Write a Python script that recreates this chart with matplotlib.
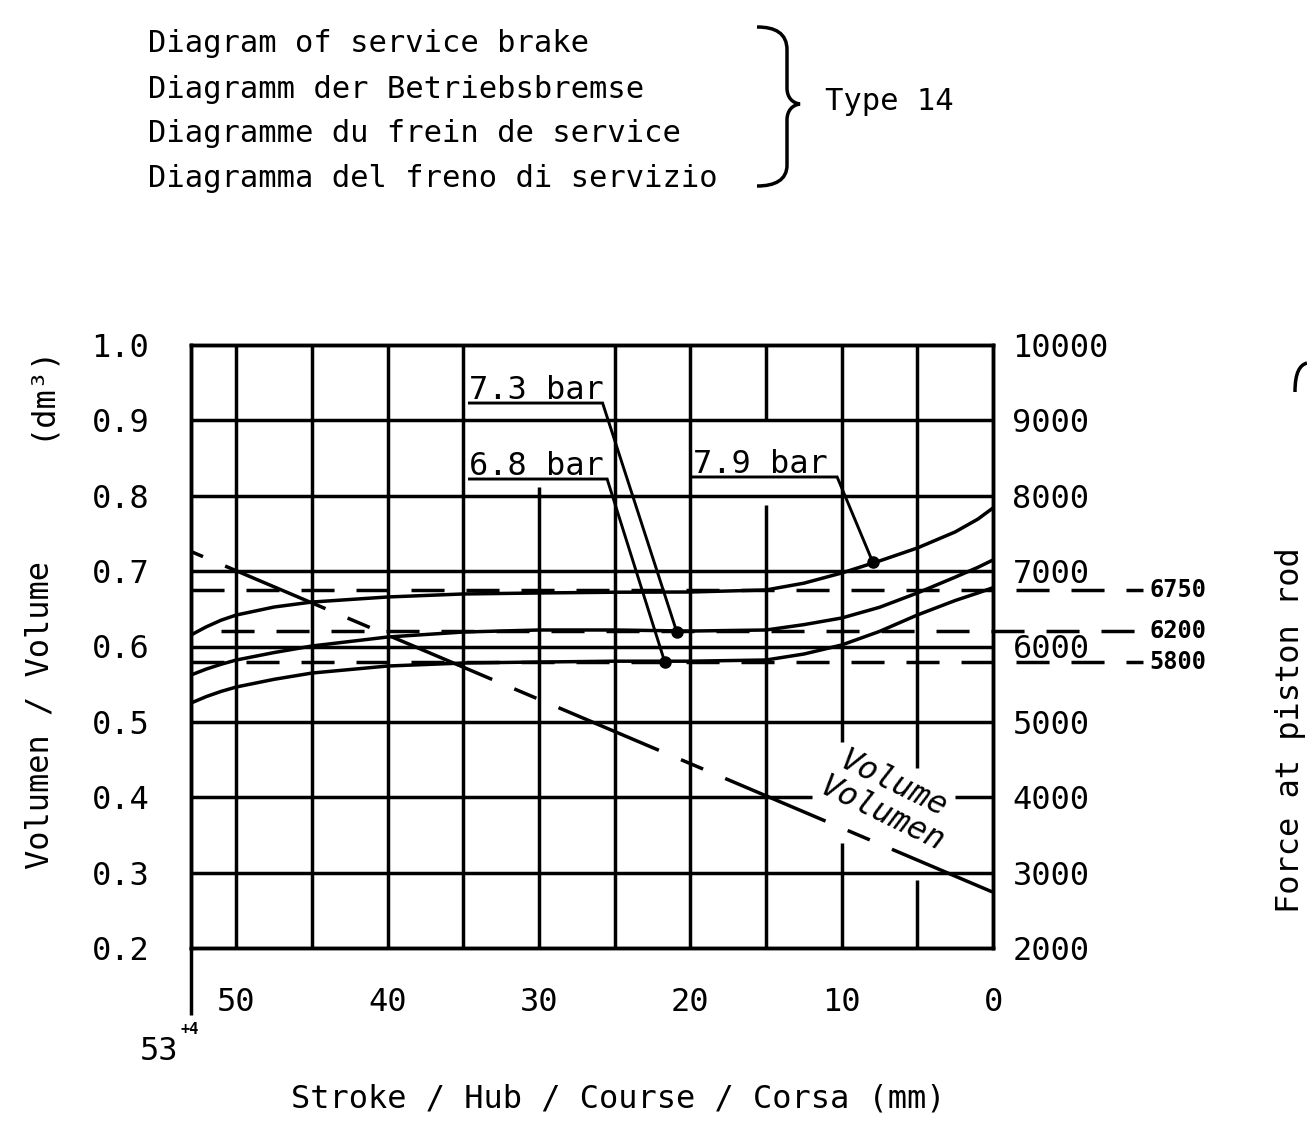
import numpy as np
import matplotlib
matplotlib.use("Agg")
import matplotlib.pyplot as plt
from matplotlib.path import Path
from matplotlib.patches import PathPatch

plt.rcParams['font.family'] = ['DejaVu Sans Mono', 'DejaVu Sans']
plt.rcParams['lines.scale_dashes'] = False

# ---------------- data ----------------
stroke_mm = [53, 52, 51, 50, 47.5, 45, 40, 35, 30, 25, 20, 15, 12.5, 10, 7.5, 5, 2.5, 1, 0]
force_79 = [6153, 6260, 6350, 6418, 6524, 6590, 6657, 6697, 6710, 6720, 6723, 6750, 6840, 6975, 7135, 7307, 7520, 7690, 7838]
force_73 = [5622, 5700, 5765, 5821, 5920, 6007, 6126, 6192, 6219, 6219, 6205, 6219, 6290, 6378, 6520, 6710, 6920, 7050, 7148]
force_68 = [5250, 5335, 5405, 5463, 5565, 5648, 5741, 5781, 5794, 5805, 5805, 5821, 5900, 6020, 6200, 6418, 6610, 6710, 6780]

volume_stroke = [53, 0]
volume_dm3 = [0.726, 0.274]

bar_labels = ["7.3 bar", "6.8 bar", "7.9 bar"]
dot_stroke = [20.9, 21.7, 7.95]
dot_force = [6195, 5800, 7121]
label_stroke = [34.6, 34.6, 19.8]
underline_force = [9230, 8222, 8249]
underline_end_stroke = [25.8, 25.5, 10.3]

ref_force = [6750, 6200, 5800]
ref_labels = ["6750", "6200", "5800"]
ref_start_stroke = [53, 51, 53]
ref_end_stroke = -9.9

x_ticks = [50, 40, 30, 20, 10, 0]
x_grid = [50, 45, 40, 35, 30, 25, 20, 15, 10, 5]
vol_ticks = [0.2, 0.3, 0.4, 0.5, 0.6, 0.7, 0.8, 0.9, 1.0]
vol_tick_labels = ["0.2", "0.3", "0.4", "0.5", "0.6", "0.7", "0.8", "0.9", "1.0"]
force_ticks = [2000, 3000, 4000, 5000, 6000, 7000, 8000, 9000, 10000]
force_tick_labels = ["2000", "3000", "4000", "5000", "6000", "7000", "8000", "9000", "10000"]
vol_grid = [0.3, 0.4, 0.5, 0.6, 0.7, 0.8, 0.9]

title_lines = ["Diagram of service brake",
               "Diagramm der Betriebsbremse",
               "Diagramme du frein de service",
               "Diagramma del freno di servizio"]

# gaps in grid lines (clearance around lettering)
v_gaps = {30: [(0.812, 1.0)], 15: [(0.788, 0.9)], 10: [(0.339, 0.473)], 5: [(0.290, 0.439)]}
h_gaps = {0.4: [(11.99, 2.52)]}

# ---------------- figure ----------------
W, H = 1307, 1145
fig = plt.figure(figsize=(W / 100, H / 100), dpi=100)
def fx(px): return px / W
def fy(py): return 1 - py / H

ax = fig.add_axes([fx(191), fy(948), (993 - 191) / W, (948 - 345) / H])
ax2 = ax.twinx()
LW = 2.5
ax.set_xlim(53, 0)
ax.set_ylim(0.2, 1.0)
ax2.set_ylim(2000, 10000)

for a in (ax, ax2):
    for sp in a.spines.values():
        sp.set_linewidth(LW)
    a.tick_params(length=0)

TFS = 23
ax.set_xticks(x_ticks)
ax.set_xticklabels([str(v) for v in x_ticks], fontsize=TFS)
ax.tick_params(axis='x', pad=28)
ax.set_yticks(vol_ticks)
ax.set_yticklabels(vol_tick_labels, fontsize=TFS)
ax.tick_params(axis='y', pad=30)
ax2.set_yticks(force_ticks)
ax2.set_yticklabels(force_tick_labels, fontsize=TFS)
ax2.tick_params(axis='y', pad=14)
for lbl in ax2.get_yticklabels():
    if lbl.get_text() == "6000":
        lbl.set_bbox(dict(facecolor='white', edgecolor='none', pad=0))
        lbl.set_zorder(6)

# grid
for xg in x_grid:
    segs = [(0.2, 1.0)]
    for g0, g1 in v_gaps.get(xg, []):
        new = []
        for s0, s1 in segs:
            if g0 > s0:
                new.append((s0, g0))
            if g1 < s1:
                new.append((g1, s1))
        segs = new
    for s0, s1 in segs:
        ax.plot([xg, xg], [s0, s1], color='black', lw=LW, solid_capstyle='butt', zorder=1)
for yg in vol_grid:
    segs = [(53, 0)]
    for g0, g1 in h_gaps.get(yg, []):
        new = []
        for s0, s1 in segs:
            new.append((s0, g0))
            new.append((g1, s1))
        segs = new
    for s0, s1 in segs:
        ax.plot([s0, s1], [yg, yg], color='black', lw=LW, solid_capstyle='butt', zorder=1)

# left edge extension below the frame
ax.plot([53, 53], [0.2, 0.111], color='black', lw=LW, clip_on=False, solid_capstyle='butt')

# reference dashed lines
for f, s0, lab in zip(ref_force, ref_start_stroke, ref_labels):
    ax2.plot([s0, ref_end_stroke], [f, f], color='black', lw=LW,
             linestyle=(0, (23.8, 15.8)), dash_capstyle='butt', clip_on=False, zorder=2)
    ax2.text(-10.35, f, lab, fontsize=17, fontweight='bold', va='center', ha='left',
             clip_on=False)

# force curves
for fc in (force_79, force_73, force_68):
    ax2.plot(stroke_mm, fc, color='black', lw=LW, zorder=3, solid_capstyle='butt')

# volume line (chain style)
ax.plot(volume_stroke, volume_dm3, color='black', lw=LW, zorder=3,
        linestyle=(103.7, (78.5, 17.3, 17.3, 17.3)), dash_capstyle='butt')

# labels with leaders
for lab, xs, yu, xe, dx, dy in zip(bar_labels, label_stroke, underline_force,
                                   underline_end_stroke, dot_stroke, dot_force):
    ax2.text(xs, yu + 50, lab, fontsize=23, ha='left', va='baseline', zorder=5)
    ax2.plot([xs, xe, dx], [yu, yu, dy], color='black', lw=2.1, zorder=4,
             solid_joinstyle='miter', clip_on=False)
    ax2.plot([dx], [dy], 'o', color='black', ms=8, zorder=5)

# volume labels
ax.text(6.55, 0.4163, "Volume", fontsize=23, rotation=-26, rotation_mode='anchor',
        ha='center', va='center', style='italic', zorder=5)
ax.text(7.34, 0.3765, "Volumen", fontsize=23, rotation=-26, rotation_mode='anchor',
        ha='center', va='center', style='italic', zorder=5)

# axis labels
fig.text(fx(40), fy(715), "Volumen / Volume", fontsize=23, rotation=90,
         ha='center', va='center')
fig.text(fx(40), fy(392), "(dm³)", fontsize=23, rotation=90,
         ha='center', va='center')
fig.text(fx(1290), fy(730), "Force at piston rod", fontsize=23, rotation=90,
         ha='center', va='center')
fig.text(fx(618), fy(1108), "Stroke / Hub / Course / Corsa (mm)", fontsize=23,
         ha='center', va='baseline')
fig.text(fx(140), fy(1060), "53", fontsize=23, ha='left', va='baseline')
fig.text(fx(181), fy(1034), "+4", fontsize=11, ha='left', va='baseline', fontweight='bold')

# title block
for line, base in zip(title_lines, [52, 98, 142, 187]):
    fig.text(fx(148), fy(base), line, fontsize=22, ha='left', va='baseline')
fig.text(fx(825), fy(110), "Type 14", fontsize=22, ha='left', va='baseline')

# brace
bp = [(757, 27), (775, 27), (787, 33), (787, 50), (787, 88),
      (787, 97), (792, 103), (800, 104), (792, 105), (787, 111), (787, 120),
      (787, 165), (787, 180), (775, 186), (757, 186)]
codes = [Path.MOVETO, Path.CURVE4, Path.CURVE4, Path.CURVE4, Path.LINETO,
         Path.CURVE4, Path.CURVE4, Path.CURVE4, Path.CURVE4, Path.CURVE4, Path.CURVE4,
         Path.LINETO, Path.CURVE4, Path.CURVE4, Path.CURVE4]
brace = Path([(fx(x), fy(y)) for x, y in bp], codes)
fig.patches.append(PathPatch(brace, transform=fig.transFigure, fill=False, lw=LW,
                             edgecolor='black'))
# partial bracket at right edge
arc = Path([(fx(1295), fy(392)), (fx(1295), fy(372)), (fx(1300), fy(365)), (fx(1307), fy(363))],
           [Path.MOVETO, Path.CURVE4, Path.CURVE4, Path.CURVE4])
fig.patches.append(PathPatch(arc, transform=fig.transFigure, fill=False, lw=LW,
                             edgecolor='black'))

fig.savefig("out.png", dpi=100)
